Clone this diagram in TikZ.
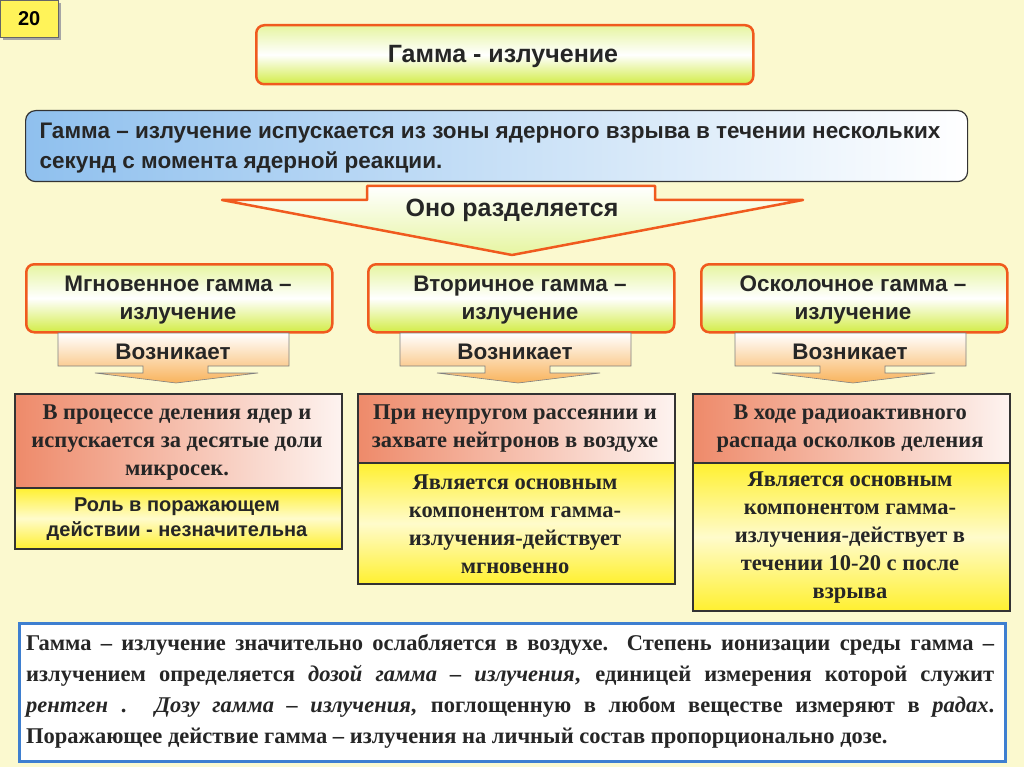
\documentclass[tikz,border=0pt]{standalone}
\usepackage{fontspec}
\setmainfont{Liberation Serif}
\setsansfont{Liberation Sans}
\definecolor{bg}{HTML}{FBF9CF}
\definecolor{obord}{HTML}{F05A1E}
\definecolor{gtop}{HTML}{E6F5A0}
\definecolor{gbot}{HTML}{D2EC46}
\definecolor{blu}{HTML}{8FC0EE}
\definecolor{salm}{HTML}{EE8A6A}
\definecolor{yel}{HTML}{FFF030}
\definecolor{ora}{HTML}{F7A033}
\definecolor{bblue}{HTML}{3E7FD0}
\begin{document}
\begin{tikzpicture}[x=1pt,y=-1pt,
  gbox/.style={draw=obord,line width=2.5pt,rounded corners=8pt,top color=gtop,bottom color=gbot,middle color=white},
  sf/.style={font=\sffamily\bfseries\fontsize{22.5}{27}\selectfont,align=center,text=black!85},
  rf/.style={font=\rmfamily\bfseries\fontsize{22.5}{28}\selectfont,align=center,text=black!85},
  redbox/.style={draw=black!80,line width=1.8pt,left color=salm,right color=white!90!salm},
  ybox/.style={draw=black!80,line width=1.8pt,top color=yel,bottom color=yel,middle color=yel!25!white},
  vbox/.style={draw=black!50,line width=0.6pt,top color=white,bottom color=ora!80}]
\useasboundingbox (0,0) rectangle (1024,767);
\fill[bg] (0,0) rectangle (1024,767);
% badge
\fill[black!35] (3,3) rectangle (61,40);
\node[draw=black!60,fill=yel!80,minimum width=58pt,minimum height=37pt,anchor=north west,inner sep=0pt,font=\sffamily\bfseries\fontsize{20}{22}\selectfont] (badge) at (0,0) {20};
% title
\node[gbox,minimum width=497pt,minimum height=59pt,anchor=north west] (title) at (255,24) {};
\node[sf,font=\sffamily\bfseries\fontsize{25}{30}\selectfont] (titlet) at (503,56) {Гамма - излучение};
% blue box
\node[draw=black!80,line width=1.2pt,rounded corners=10pt,left color=blu,right color=white,minimum width=942pt,minimum height=71pt,anchor=north west] (blue) at (25,110) {};
\node[sf,align=left,anchor=west,font=\sffamily\bfseries\fontsize{22.5}{30}\selectfont] (bluet) at (36,148) {Гамма – излучение испускается из зоны ядерного взрыва в течении нескольких\\секунд с момента ядерной реакции.};
% big arrow
\draw[draw=obord,line width=2.5pt,top color=white,bottom color=gtop,line join=round] (367,186) -- (655,186) -- (655,200) -- (803,200) -- (512,255) -- (222,200) -- (367,200) -- cycle;
\node[sf,font=\sffamily\bfseries\fontsize{25}{30}\selectfont] (split) at (512,210) {Оно разделяется};
% columns
\foreach \i/\gx/\vx/\t in {a/25/58/{Мгновенное гамма –\\излучение},b/367/400/{Вторичное гамма –\\излучение},c/700/735/{Осколочное гамма –\\излучение}}{
  \node[gbox,minimum width=306pt,minimum height=68pt,anchor=north west] (g\i) at (\gx,263) {};
  \node[sf,font=\sffamily\bfseries\fontsize{22.5}{28}\selectfont] (g\i t) at (\gx+153,300) {\t};
  \draw[vbox] (\vx,333) -- ++(231,0) -- ++(0,33) -- ++(-81,0) -- ++(0,7) -- ++(50,0) -- ++(-82,10) -- ++(-81,-10) -- ++(48,0) -- ++(0,-7) -- ++(-85,0) -- cycle;
  \node[sf] (v\i) at (\vx+115,352) {Возникает};
}
% column 1
\node[redbox,minimum width=327pt,minimum height=94pt,anchor=north west] (r1) at (14,393) {};
\node[rf] (r1t) at (177,443) {В процессе деления ядер и\\испускается за десятые доли\\микросек.};
\node[ybox,minimum width=327pt,minimum height=61pt,anchor=north west] (y1) at (14,487) {};
\node[sf,font=\sffamily\bfseries\fontsize{20}{25}\selectfont] (y1t) at (177,519) {Роль в поражающем\\действии - незначительна};
% column 2
\node[redbox,minimum width=317pt,minimum height=69pt,anchor=north west] (r2) at (357,393) {};
\node[rf] (r2t) at (515,429) {При неупругом рассеянии и\\захвате нейтронов в воздухе};
\node[ybox,minimum width=317pt,minimum height=121pt,anchor=north west] (y2) at (357,462) {};
\node[rf] (y2t) at (515,524) {Является основным\\компонентом гамма-\\излучения-действует\\мгновенно};
% column 3
\node[redbox,minimum width=317pt,minimum height=69pt,anchor=north west] (r3) at (692,393) {};
\node[rf] (r3t) at (850,429) {В ходе радиоактивного\\распада осколков деления};
\node[ybox,minimum width=317pt,minimum height=148pt,anchor=north west] (y3) at (692,462) {};
\node[rf] (y3t) at (850,538) {Является основным\\компонентом гамма-\\излучения-действует в\\течении 10-20 с после\\взрыва};
% bottom
\node[draw=bblue,line width=2.5pt,fill=white,minimum width=986pt,minimum height=138pt,anchor=north west] (bot) at (18,622) {};
\node[anchor=north west,inner sep=0pt,align=left,font=\rmfamily\bfseries\fontsize{22.5}{31}\selectfont,text=black!85] (bott) at (26,634) {%
\makebox[968pt][s]{Гамма – излучение значительно ослабляется в воздухе. Степень ионизации среды гамма –}\\
\makebox[968pt][s]{излучением определяется \textit{дозой гамма – излучения}, единицей измерения которой служит}\\
\makebox[968pt][s]{\textit{рентген} . \textit{Дозу гамма – излучения}, поглощенную в любом веществе измеряют в \textit{радах}.}\\
Поражающее действие гамма – излучения на личный состав пропорционально дозе.};
\end{tikzpicture}
\end{document}
